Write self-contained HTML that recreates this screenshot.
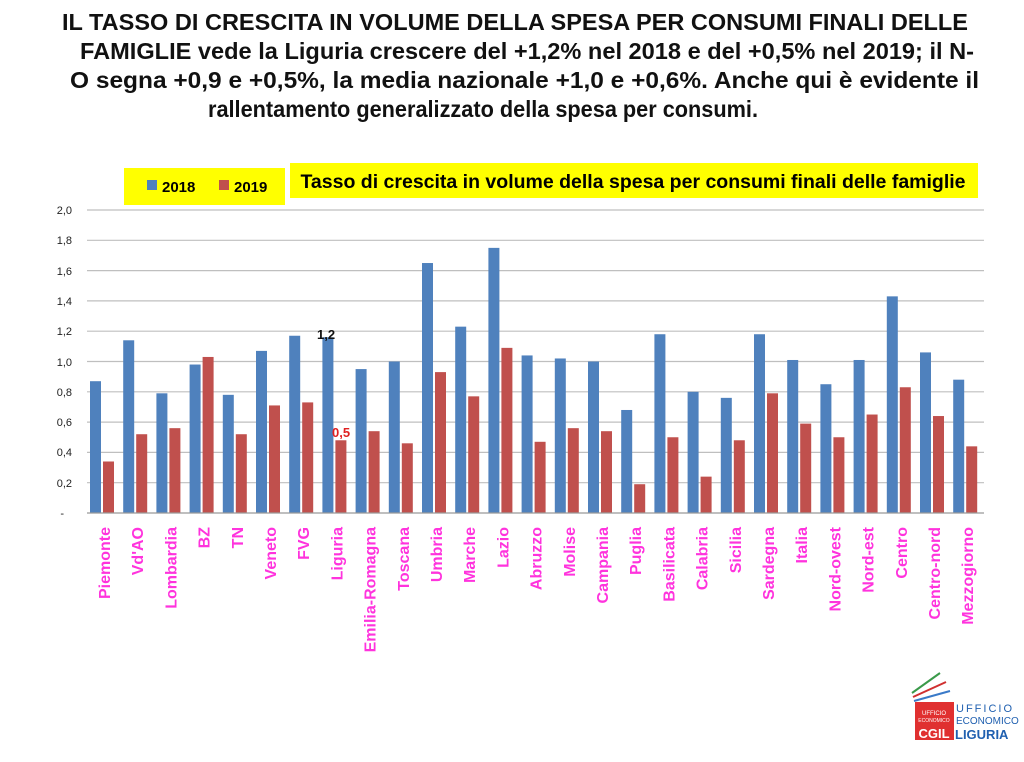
<!DOCTYPE html>
<html><head><meta charset="utf-8"><style>
body{margin:0;background:#fff;width:1024px;height:757px;overflow:hidden;font-family:"Liberation Sans",sans-serif}
</style></head><body>
<svg width="1024" height="757" viewBox="0 0 1024 757" xmlns="http://www.w3.org/2000/svg" font-family="Liberation Sans, sans-serif">
<g font-weight="bold" font-size="23" fill="#111">
<text x="62" y="30" textLength="906" lengthAdjust="spacingAndGlyphs">IL TASSO DI CRESCITA IN VOLUME DELLA SPESA PER CONSUMI FINALI DELLE</text>
<text x="80" y="59" textLength="894" lengthAdjust="spacingAndGlyphs">FAMIGLIE vede la Liguria crescere del +1,2% nel 2018 e del +0,5% nel 2019; il N-</text>
<text x="70" y="88" textLength="909" lengthAdjust="spacingAndGlyphs">O segna +0,9 e +0,5%, la media nazionale +1,0 e +0,6%. Anche qui è evidente il</text>
<text x="208" y="117" textLength="550" lengthAdjust="spacingAndGlyphs">rallentamento generalizzato della spesa per consumi.</text>
</g>
<rect x="124" y="168" width="161" height="37" fill="#ffff00"/>
<rect x="147" y="180" width="10" height="10" fill="#4f81bd"/>
<text x="162" y="192" font-size="15" font-weight="bold">2018</text>
<rect x="219" y="180" width="10" height="10" fill="#c0504d"/>
<text x="234" y="192" font-size="15" font-weight="bold">2019</text>
<rect x="290" y="163" width="688" height="35" fill="#ffff00"/>
<text x="633" y="188" font-size="19.5" font-weight="bold" text-anchor="middle">Tasso di crescita in volume della spesa per consumi finali delle famiglie</text>
<g stroke="#bfbfbf" stroke-width="1.2">
<line x1="87" x2="984" y1="210" y2="210"/><line x1="87" x2="984" y1="240.3" y2="240.3"/>
<line x1="87" x2="984" y1="270.6" y2="270.6"/><line x1="87" x2="984" y1="300.9" y2="300.9"/>
<line x1="87" x2="984" y1="331.2" y2="331.2"/><line x1="87" x2="984" y1="361.5" y2="361.5"/>
<line x1="87" x2="984" y1="391.8" y2="391.8"/><line x1="87" x2="984" y1="422.1" y2="422.1"/>
<line x1="87" x2="984" y1="452.4" y2="452.4"/><line x1="87" x2="984" y1="482.7" y2="482.7"/>
</g>
<g font-size="11" fill="#222" text-anchor="end">
<text x="72" y="214">2,0</text><text x="72" y="244">1,8</text><text x="72" y="275">1,6</text>
<text x="72" y="305">1,4</text><text x="72" y="335">1,2</text><text x="72" y="366">1,0</text>
<text x="72" y="396">0,8</text><text x="72" y="426">0,6</text><text x="72" y="456">0,4</text>
<text x="72" y="487">0,2</text><text x="64" y="517">-</text>
</g>
<g transform="translate(0,513) scale(1,-151.5)">
<g fill="#4f81bd">
<rect x="90" width="11" height="0.87"/><rect x="123.2" width="11" height="1.14"/>
<rect x="156.4" width="11" height="0.79"/><rect x="189.6" width="11" height="0.98"/>
<rect x="222.8" width="11" height="0.78"/><rect x="256" width="11" height="1.07"/>
<rect x="289.2" width="11" height="1.17"/><rect x="322.4" width="11" height="1.16"/>
<rect x="355.6" width="11" height="0.95"/><rect x="388.8" width="11" height="1.0"/>
<rect x="422" width="11" height="1.65"/><rect x="455.2" width="11" height="1.23"/>
<rect x="488.4" width="11" height="1.75"/><rect x="521.6" width="11" height="1.04"/>
<rect x="554.8" width="11" height="1.02"/><rect x="588" width="11" height="1.0"/>
<rect x="621.2" width="11" height="0.68"/><rect x="654.4" width="11" height="1.18"/>
<rect x="687.6" width="11" height="0.80"/><rect x="720.8" width="11" height="0.76"/>
<rect x="754" width="11" height="1.18"/><rect x="787.2" width="11" height="1.01"/>
<rect x="820.4" width="11" height="0.85"/><rect x="853.6" width="11" height="1.01"/>
<rect x="886.8" width="11" height="1.43"/><rect x="920" width="11" height="1.06"/>
<rect x="953.2" width="11" height="0.88"/>
</g>
<g fill="#c0504d">
<rect x="103" width="11" height="0.34"/><rect x="136.2" width="11" height="0.52"/>
<rect x="169.4" width="11" height="0.56"/><rect x="202.6" width="11" height="1.03"/>
<rect x="235.8" width="11" height="0.52"/><rect x="269" width="11" height="0.71"/>
<rect x="302.2" width="11" height="0.73"/><rect x="335.4" width="11" height="0.48"/>
<rect x="368.6" width="11" height="0.54"/><rect x="401.8" width="11" height="0.46"/>
<rect x="435" width="11" height="0.93"/><rect x="468.2" width="11" height="0.77"/>
<rect x="501.4" width="11" height="1.09"/><rect x="534.6" width="11" height="0.47"/>
<rect x="567.8" width="11" height="0.56"/><rect x="601" width="11" height="0.54"/>
<rect x="634.2" width="11" height="0.19"/><rect x="667.4" width="11" height="0.50"/>
<rect x="700.6" width="11" height="0.24"/><rect x="733.8" width="11" height="0.48"/>
<rect x="767" width="11" height="0.79"/><rect x="800.2" width="11" height="0.59"/>
<rect x="833.4" width="11" height="0.50"/><rect x="866.6" width="11" height="0.65"/>
<rect x="899.8" width="11" height="0.83"/><rect x="933" width="11" height="0.64"/>
<rect x="966.2" width="11" height="0.44"/>
</g>
</g>
<line x1="87" x2="984" y1="513" y2="513" stroke="#999" stroke-width="1.2"/>
<text x="317" y="339" font-size="13" font-weight="bold" fill="#111">1,2</text>
<text x="332" y="437" font-size="13" font-weight="bold" fill="#e02020">0,5</text>
<g font-size="16" font-weight="bold" fill="#ff33dd" text-anchor="end">
<text transform="translate(110,527) rotate(-90)">Piemonte</text>
<text transform="translate(143.2,527) rotate(-90)">Vd'AO</text>
<text transform="translate(176.4,527) rotate(-90)">Lombardia</text>
<text transform="translate(209.6,527) rotate(-90)">BZ</text>
<text transform="translate(242.8,527) rotate(-90)">TN</text>
<text transform="translate(276,527) rotate(-90)">Veneto</text>
<text transform="translate(309.2,527) rotate(-90)">FVG</text>
<text transform="translate(342.4,527) rotate(-90)">Liguria</text>
<text transform="translate(375.6,527) rotate(-90)">Emilia-Romagna</text>
<text transform="translate(408.8,527) rotate(-90)">Toscana</text>
<text transform="translate(442,527) rotate(-90)">Umbria</text>
<text transform="translate(475.2,527) rotate(-90)">Marche</text>
<text transform="translate(508.4,527) rotate(-90)">Lazio</text>
<text transform="translate(541.6,527) rotate(-90)">Abruzzo</text>
<text transform="translate(574.8,527) rotate(-90)">Molise</text>
<text transform="translate(608,527) rotate(-90)">Campania</text>
<text transform="translate(641.2,527) rotate(-90)">Puglia</text>
<text transform="translate(674.4,527) rotate(-90)">Basilicata</text>
<text transform="translate(707.6,527) rotate(-90)">Calabria</text>
<text transform="translate(740.8,527) rotate(-90)">Sicilia</text>
<text transform="translate(774,527) rotate(-90)">Sardegna</text>
<text transform="translate(807.2,527) rotate(-90)">Italia</text>
<text transform="translate(840.4,527) rotate(-90)">Nord-ovest</text>
<text transform="translate(873.6,527) rotate(-90)">Nord-est</text>
<text transform="translate(906.8,527) rotate(-90)">Centro</text>
<text transform="translate(940,527) rotate(-90)">Centro-nord</text>
<text transform="translate(973.2,527) rotate(-90)">Mezzogiorno</text>
</g>
<g stroke-width="2" fill="none">
<line x1="912" y1="693" x2="940" y2="673" stroke="#3a9a4a"/>
<line x1="913" y1="697" x2="946" y2="682" stroke="#d03030"/>
<line x1="914" y1="701" x2="950" y2="691" stroke="#3a7ac8"/>
</g>
<rect x="915" y="702" width="39" height="38" fill="#e03030"/>
<text x="934" y="715" font-size="6" fill="#fff" text-anchor="middle">UFFICIO</text>
<text x="934" y="722" font-size="5" fill="#fff" text-anchor="middle">ECONOMICO</text>
<text x="934" y="738" font-size="13" font-weight="bold" fill="#fff" text-anchor="middle">CGIL</text>
<text x="956" y="712" font-size="11" fill="#2060b0" letter-spacing="2">UFFICIO</text>
<text x="956" y="724" font-size="10" fill="#2060b0">ECONOMICO</text>
<text x="955" y="739" font-size="13" font-weight="bold" fill="#2060b0">LIGURIA</text>
</svg>
</body></html>
